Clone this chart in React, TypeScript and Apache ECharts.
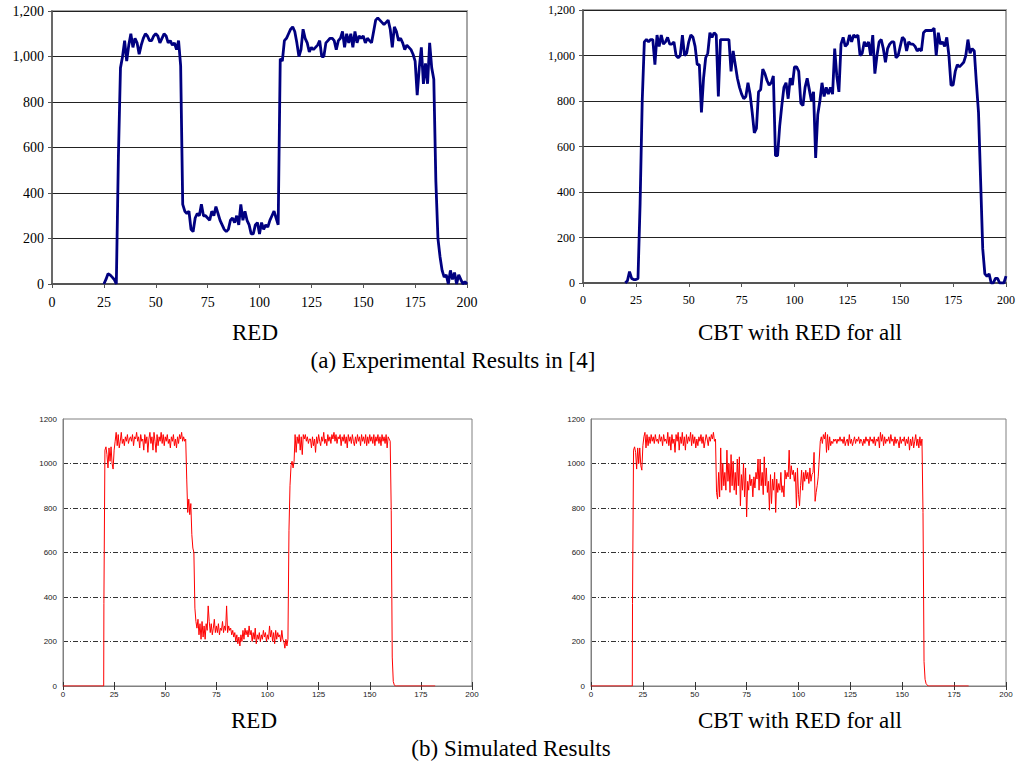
import React, { useEffect, useRef } from "react";
import * as echarts from "echarts";

// ---------- Tick settings ----------
const xMin = 0;
const xMax = 200;
const xInterval = 25;
const yMin = 0;
const yMax = 1200;
const yInterval = 200;

// ---------- Captions ----------
const leftCaption = "RED";
const rightCaption = "CBT with RED for all";
const topGroupCaption = "(a) Experimental Results in [4]";
const bottomGroupCaption = "(b) Simulated Results";

// ---------- (a) Experimental: RED, one sample per second starting at t=25 ----------
const expRedStartX = 25;
const expRedY = [
  // 25
  0, 20, 45, 40, 30, 20, 0, 560, 950, 1000,
  // 35
  1070, 980, 1050, 1100, 1040, 1080, 1060, 1010, 1050, 1080,
  // 45
  1100, 1090, 1070, 1070, 1090, 1100, 1090, 1060, 1080, 1100,
  // 55
  1090, 1060, 1070, 1050, 1060, 1030, 1070, 960, 350, 320,
  // 65
  310, 320, 240, 230, 290, 310, 300, 350, 300, 300,
  // 75
  290, 280, 320, 300, 340, 310, 280, 260, 240, 230,
  // 85
  240, 280, 290, 270, 300, 260, 350, 280, 320, 280,
  // 95
  260, 220, 220, 260, 270, 220, 270, 240, 260, 250,
  // 105
  280, 300, 320, 290, 260, 990, 980, 1070, 1080, 1100,
  // 115
  1120, 1130, 1110, 1060, 1000, 1030, 1120, 1080, 1060, 1020,
  // 125
  1040, 1030, 1040, 1050, 1070, 1000, 1000, 1060, 1070, 1080,
  // 135
  1080, 1070, 1030, 1070, 1080, 1110, 1040, 1100, 1060, 1100,
  // 145
  1040, 1110, 1060, 1090, 1080, 1090, 1060, 1080, 1070, 1060,
  // 155
  1110, 1160, 1170, 1160, 1150, 1140, 1150, 1160, 1120, 1040,
  // 165
  1130, 1110, 1070, 1080, 1060, 1030, 1050, 1040, 1030, 1010,
  // 175
  980, 830, 950, 1040, 880, 970, 880, 1060, 950, 900,
  // 185
  450, 200, 120, 60, 30, 40, 0, 60, 20, 50,
  // 195
  0, 40, 20, 0, 10, 0,
];

// ---------- (a) Experimental: CBT with RED for all, starting at t=20 ----------
const expCbtStartX = 20;
const expCbtY = [
  // 20
  0, 10, 50, 20, 15, 15, 20, 350, 800, 1060,
  // 30
  1070, 1060, 1070, 1070, 960, 1090, 1040, 1090, 1050, 1060,
  // 40
  1080, 1050, 1050, 1060, 1000, 990, 1000, 1090, 1000, 1010,
  // 50
  1060, 1090, 1080, 1040, 960, 960, 750, 900, 990, 1010,
  // 60
  1100, 1080, 1100, 1090, 820, 1070, 1070, 1070, 1070, 1070,
  // 70
  930, 1020, 960, 900, 860, 830, 810, 820, 880, 830,
  // 80
  750, 660, 680, 840, 850, 940, 920, 890, 870, 880,
  // 90
  910, 560, 560, 690, 780, 860, 880, 810, 900, 870,
  // 100
  950, 950, 930, 790, 780, 860, 900, 850, 800, 840,
  // 110
  550, 740, 800, 880, 820, 860, 830, 860, 830, 1030,
  // 120
  910, 840, 1050, 1080, 1040, 1050, 1090, 1060, 1090, 1080,
  // 130
  1090, 1000, 1010, 1060, 1040, 1060, 1000, 1090, 920, 1000,
  // 140
  1060, 1070, 1030, 970, 1030, 1050, 1060, 1060, 990, 1000,
  // 150
  1040, 1080, 1070, 1020, 1060, 1050, 1050, 1040, 1020, 1030,
  // 160
  1020, 1100, 1110, 1110, 1110, 1110, 1120, 1000, 1100, 1050,
  // 170
  1060, 1040, 1080, 1000, 870, 870, 930, 960, 950, 960,
  // 180
  970, 1000, 1070, 1010, 1030, 1020, 880, 750, 450, 150,
  // 190
  40, 30, 40, 0, 0, 20, 20, 0, 0, 0,
  // 200
  30,
];

// ---------- (b) Simulated: flat zero before/after, dense samples (step 0.5) from t=20 ----------
const simFlatStartX = 0;
const simFlatRiseX = 19.9;
const simFlatEndX = 182;
const simStartX = 20;
const simStepX = 0.5;

const simRedY = [
  // 20
  370, 1060, 1075, 1040, 980, 1070, 1010, 1075, 1000, 975,
  // 25
  1060, 1100, 1140, 1080, 1130, 1070, 1100, 1140, 1090, 1110,
  // 30
  1080, 1120, 1100, 1130, 1090, 1110, 1120, 1100, 1130, 1080,
  // 35
  1120, 1110, 1140, 1100, 1120, 1070, 1130, 1100, 1110, 1060,
  // 40
  1130, 1090, 1120, 1050, 1110, 1140, 1090, 1120, 1060, 1140,
  // 45
  1100, 1050, 1130, 1080, 1120, 1100, 1140, 1090, 1130, 1080,
  // 50
  1120, 1100, 1130, 1090, 1110, 1070, 1120, 1100, 1130, 1080,
  // 55
  1110, 1070, 1120, 1090, 1130, 1110, 1140, 1100, 1120, 1100,
  // 60
  1110, 930, 780, 840, 770, 820, 680, 620, 600, 350,
  // 65
  290, 260, 300, 230, 280, 210, 290, 220, 270, 210,
  // 70
  280, 250, 360, 290, 240, 280, 230, 260, 300, 240,
  // 75
  270, 240, 280, 230, 260, 250, 290, 240, 270, 250,
  // 80
  360, 240, 270, 250, 260, 230, 250, 220, 240, 200,
  // 85
  230, 190, 220, 180, 230, 200, 250, 210, 260, 230,
  // 90
  250, 220, 270, 230, 250, 200, 240, 210, 260, 190,
  // 95
  230, 210, 240, 200, 230, 210, 250, 220, 240, 200,
  // 100
  230, 210, 270, 220, 250, 200, 240, 190, 250, 210,
  // 105
  240, 220, 230, 200, 250, 210, 200, 170, 210, 180,
  // 110
  210, 700, 900, 990, 1010, 980, 1010, 1130, 1050, 1120,
  // 115
  1090, 1130, 1060, 1120, 1040, 1130, 1110, 1130, 1100, 1120,
  // 120
  1090, 1110, 1110, 1070, 1120, 1080, 1110, 1050, 1120, 1090,
  // 125
  1130, 1100, 1080, 1120, 1100, 1140, 1090, 1110, 1080, 1130,
  // 130
  1100, 1120, 1090, 1130, 1110, 1140, 1100, 1130, 1090, 1120,
  // 135
  1110, 1130, 1080, 1120, 1100, 1130, 1090, 1120, 1070, 1130,
  // 140
  1100, 1120, 1090, 1130, 1100, 1080, 1120, 1090, 1130, 1100,
  // 145
  1120, 1080, 1130, 1100, 1120, 1090, 1130, 1080, 1120, 1090,
  // 150
  1130, 1100, 1120, 1090, 1130, 1080, 1120, 1100, 1130, 1090,
  // 155
  1120, 1080, 1130, 1100, 1120, 1090, 1130, 1070, 1120, 1110,
  // 160
  1100, 790, 130, 20, 5, 0, 0,
];

const simCbtY = [
  // 20
  370, 1060, 1075, 1050, 975, 1070, 1000, 1070, 990, 970,
  // 25
  1080, 1120, 1140, 1070, 1130, 1080, 1120, 1090, 1130, 1100,
  // 30
  1120, 1090, 1130, 1100, 1110, 1090, 1130, 1100, 1120, 1080,
  // 35
  1130, 1100, 1110, 1090, 1140, 1080, 1120, 1060, 1130, 1090,
  // 40
  1110, 1050, 1130, 1100, 1140, 1060, 1120, 1090, 1140, 1080,
  // 45
  1120, 1060, 1130, 1090, 1120, 1100, 1140, 1080, 1130, 1090,
  // 50
  1120, 1070, 1110, 1080, 1120, 1100, 1130, 1090, 1120, 1070,
  // 55
  1100, 1130, 1110, 1080, 1120, 1100, 1130, 1110, 1140, 1100,
  // 60
  1110, 870, 840, 960, 850, 1070, 880, 1000, 900, 960,
  // 65
  880, 1060, 920, 1000, 870, 1040, 900, 1010, 880, 960,
  // 70
  860, 1020, 900, 1030, 810, 950, 880, 1000, 850, 980,
  // 75
  760, 920, 880, 950, 900, 930, 850, 940, 890, 960,
  // 80
  930, 1020, 880, 1020, 900, 960, 860, 1030, 900, 980,
  // 85
  870, 920, 790, 950, 820, 930, 880, 960, 780, 930,
  // 90
  870, 910, 880, 960, 870, 900, 850, 970, 930, 960,
  // 95
  940, 1060, 930, 990, 950, 970, 920, 960, 800, 980,
  // 100
  860, 810, 900, 970, 880, 960, 920, 970, 930, 960,
  // 105
  910, 980, 920, 950, 960, 1050, 830, 870, 900, 940,
  // 110
  1020, 1100, 1120, 1090, 1130, 1110, 1140, 1050, 1130, 1060,
  // 115
  1120, 1080, 1100, 1090, 1110, 1100, 1110, 1090, 1110, 1100,
  // 120
  1120, 1100, 1110, 1090, 1120, 1080, 1100, 1110, 1080, 1130,
  // 125
  1090, 1110, 1080, 1100, 1120, 1090, 1110, 1100, 1120, 1090,
  // 130
  1110, 1100, 1080, 1110, 1090, 1120, 1100, 1110, 1080, 1120,
  // 135
  1100, 1110, 1090, 1120, 1080, 1110, 1100, 1120, 1070, 1140,
  // 140
  1100, 1130, 1080, 1120, 1090, 1110, 1100, 1120, 1090, 1130,
  // 145
  1100, 1110, 1080, 1120, 1090, 1110, 1100, 1070, 1120, 1090,
  // 150
  1110, 1100, 1120, 1080, 1110, 1090, 1120, 1060, 1110, 1080,
  // 155
  1120, 1070, 1100, 1130, 1080, 1110, 1070, 1120, 1080, 1110,
  // 160
  780, 110, 30, 10, 5, 0, 0,
];

const toPairs = (start: number, step: number, ys: number[]) =>
  ys.map((y, i) => [start + i * step, y]);

const simPairs = (ys: number[]) => [
  [simFlatStartX, 0],
  [simFlatRiseX, 0],
  ...toPairs(simStartX, simStepX, ys),
  [simFlatEndX, 0],
];

const SERIF = "Liberation Serif";
const SANS = "Liberation Sans";

function expXAxis(gridIndex: number, fontSize: number) {
  return {
    type: "value",
    gridIndex,
    min: xMin,
    max: xMax,
    interval: xInterval,
    axisLine: { show: true, onZero: false, lineStyle: { color: "#555", width: 2 } },
    axisTick: { show: true, inside: false, length: 4, lineStyle: { color: "#555", width: 1 } },
    axisLabel: { fontFamily: SERIF, fontSize, color: "#000", margin: 11 },
    splitLine: { show: false },
  };
}

function expYAxis(gridIndex: number, fontSize: number) {
  return {
    type: "value",
    gridIndex,
    min: yMin,
    max: yMax,
    interval: yInterval,
    axisLine: { show: true, lineStyle: { color: "#555", width: 1.5 } },
    axisTick: { show: true, inside: false, length: 4, lineStyle: { color: "#555", width: 1 } },
    axisLabel: {
      fontFamily: SERIF,
      fontSize,
      color: "#000",
      margin: 8,
      formatter: (v: number) => v.toLocaleString("en-US"),
    },
    splitLine: { show: true, lineStyle: { color: "#222", width: 1 } },
  };
}

function simXAxis(gridIndex: number) {
  return {
    type: "value",
    gridIndex,
    min: xMin,
    max: xMax,
    interval: xInterval,
    axisLine: { show: true, onZero: false, lineStyle: { color: "#808080", width: 1 } },
    axisTick: { show: true, inside: true, length: 4, lineStyle: { color: "#333", width: 1 } },
    axisLabel: { fontFamily: SANS, fontSize: 8, color: "#222", margin: 4, formatter: (v: number) => String(v) },
    splitLine: { show: false },
  };
}

function simTopXAxis(gridIndex: number) {
  return {
    type: "value",
    gridIndex,
    position: "top",
    min: xMin,
    max: xMax,
    interval: xInterval,
    axisLine: { show: false },
    axisTick: { show: true, inside: true, length: 4, lineStyle: { color: "#333", width: 1 } },
    axisLabel: { show: false },
    splitLine: { show: false },
  };
}

function simYAxis(gridIndex: number) {
  return {
    type: "value",
    gridIndex,
    min: yMin,
    max: yMax,
    interval: yInterval,
    axisLine: { show: true, lineStyle: { color: "#808080", width: 1 } },
    axisTick: { show: false },
    axisLabel: { fontFamily: SANS, fontSize: 8, color: "#222", margin: 6, formatter: (v: number) => String(v) },
    splitLine: {
      show: true,
      showMinLine: false,
      showMaxLine: false,
      lineStyle: { color: "#333", width: 1, type: [5, 2, 1, 2] },
    },
  };
}

function caption(text: string, x: number, y: number) {
  return {
    type: "text",
    x,
    y,
    style: {
      text,
      x: 0,
      y: 0,
      align: "center",
      verticalAlign: "middle",
      fontFamily: SERIF,
      fontSize: 23,
      fill: "#000",
    },
  };
}

export default function App() {
  const ref = useRef<HTMLDivElement>(null);

  useEffect(() => {
    if (!ref.current) return;
    const chart = echarts.init(ref.current, undefined, { renderer: "svg" });
    const option: any = {
      animation: false,
      backgroundColor: "#fff",
      grid: [
        { left: 52, top: 11, width: 415, height: 273, show: true, borderColor: "#a6a6a6", borderWidth: 2, backgroundColor: "#fff" },
        { left: 583, top: 10, width: 424, height: 273, show: true, borderColor: "#a6a6a6", borderWidth: 2, backgroundColor: "#fff" },
        { left: 63, top: 419, width: 409, height: 267, show: true, borderColor: "#808080", borderWidth: 1, backgroundColor: "#fff" },
        { left: 591, top: 419, width: 415, height: 267, show: true, borderColor: "#808080", borderWidth: 1, backgroundColor: "#fff" },
      ],
      xAxis: [
        expXAxis(0, 14),
        expXAxis(1, 12),
        simXAxis(2),
        simXAxis(3),
        simTopXAxis(2),
        simTopXAxis(3),
      ],
      yAxis: [expYAxis(0, 14), expYAxis(1, 12), simYAxis(2), simYAxis(3)],
      series: [
        {
          type: "line",
          xAxisIndex: 0,
          yAxisIndex: 0,
          data: toPairs(expRedStartX, 1, expRedY),
          symbol: "none",
          clip: true,
          lineStyle: { color: "#000080", width: 2.8 },
          itemStyle: { color: "#000080" },
        },
        {
          type: "line",
          xAxisIndex: 1,
          yAxisIndex: 1,
          data: toPairs(expCbtStartX, 1, expCbtY),
          symbol: "none",
          clip: true,
          lineStyle: { color: "#000080", width: 2.8 },
          itemStyle: { color: "#000080" },
        },
        {
          type: "line",
          xAxisIndex: 2,
          yAxisIndex: 2,
          data: simPairs(simRedY),
          symbol: "none",
          clip: true,
          lineStyle: { color: "#ff0000", width: 1 },
          itemStyle: { color: "#ff0000" },
        },
        {
          type: "line",
          xAxisIndex: 3,
          yAxisIndex: 3,
          data: simPairs(simCbtY),
          symbol: "none",
          clip: true,
          lineStyle: { color: "#ff0000", width: 1 },
          itemStyle: { color: "#ff0000" },
        },
      ],
      graphic: [
        caption(leftCaption, 255, 332),
        caption(rightCaption, 800, 332),
        caption(topGroupCaption, 453, 360),
        caption(leftCaption, 254, 720),
        caption(rightCaption, 800, 720),
        caption(bottomGroupCaption, 511, 748),
      ],
    };
    chart.setOption(option);
    return () => chart.dispose();
  }, []);

  return (
    <div
      ref={ref}
      style={{ position: "absolute", left: 0, top: 0, width: 1018, height: 763, background: "#fff" }}
    />
  );
}
